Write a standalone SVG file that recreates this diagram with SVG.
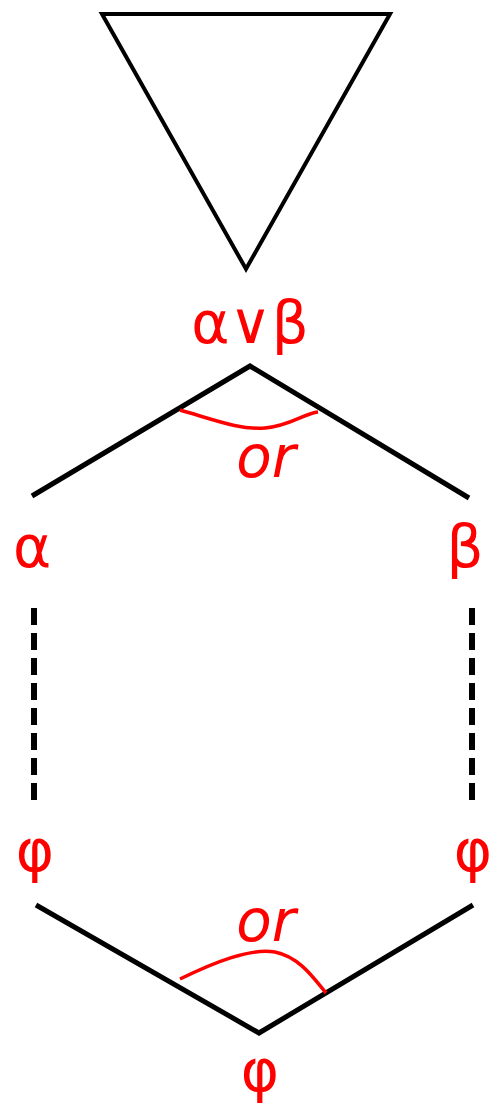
<svg xmlns="http://www.w3.org/2000/svg" width="498" height="1118" viewBox="0 0 498 1118">
<style>
.ln{fill:none;stroke:#000;stroke-width:5}
.ds{fill:none;stroke:#000;stroke-width:6;stroke-dasharray:17 8}
.arc{fill:none;stroke:#f00;stroke-width:3.5}
.t{font-family:"DejaVu Sans",sans-serif;font-size:58px;fill:#f00;text-anchor:middle}
.i{font-style:italic}
</style>
<rect width="498" height="1118" fill="#fff"/>
<g id="triangle"><polygon points="102,14 390,14 246,269" fill="none" stroke="#000" stroke-width="4"/></g>
<g id="connectors">
<polyline class="ln" points="32,496 250,366 469,498"/>
<polyline class="ln" points="36,905 259,1033 473,905"/>
<line class="ds" x1="34" y1="608" x2="34" y2="807"/>
<line class="ds" x1="472" y1="608" x2="472" y2="807"/>
<path class="arc" d="M180,410 C215,420 240,430 265,428 C290,426 305,413 318,412"/>
<path class="arc" d="M180,979 C215,962 250,948 275,952 C300,957 315,980 326,993"/>
</g>
<g id="top"><text class="t" x="250" y="343">α∨β</text></g>
<g id="or1"><text class="t i" x="266" y="477">or</text></g>
<g id="alpha"><text class="t" x="32" y="567">α</text></g>
<g id="beta"><text class="t" x="465" y="567">β</text></g>
<g id="phiL"><text class="t" x="35" y="871">φ</text></g>
<g id="phiR"><text class="t" x="473" y="871">φ</text></g>
<g id="or2"><text class="t i" x="266" y="941">or</text></g>
<g id="phiB"><text class="t" x="260" y="1091">φ</text></g>
</svg>
